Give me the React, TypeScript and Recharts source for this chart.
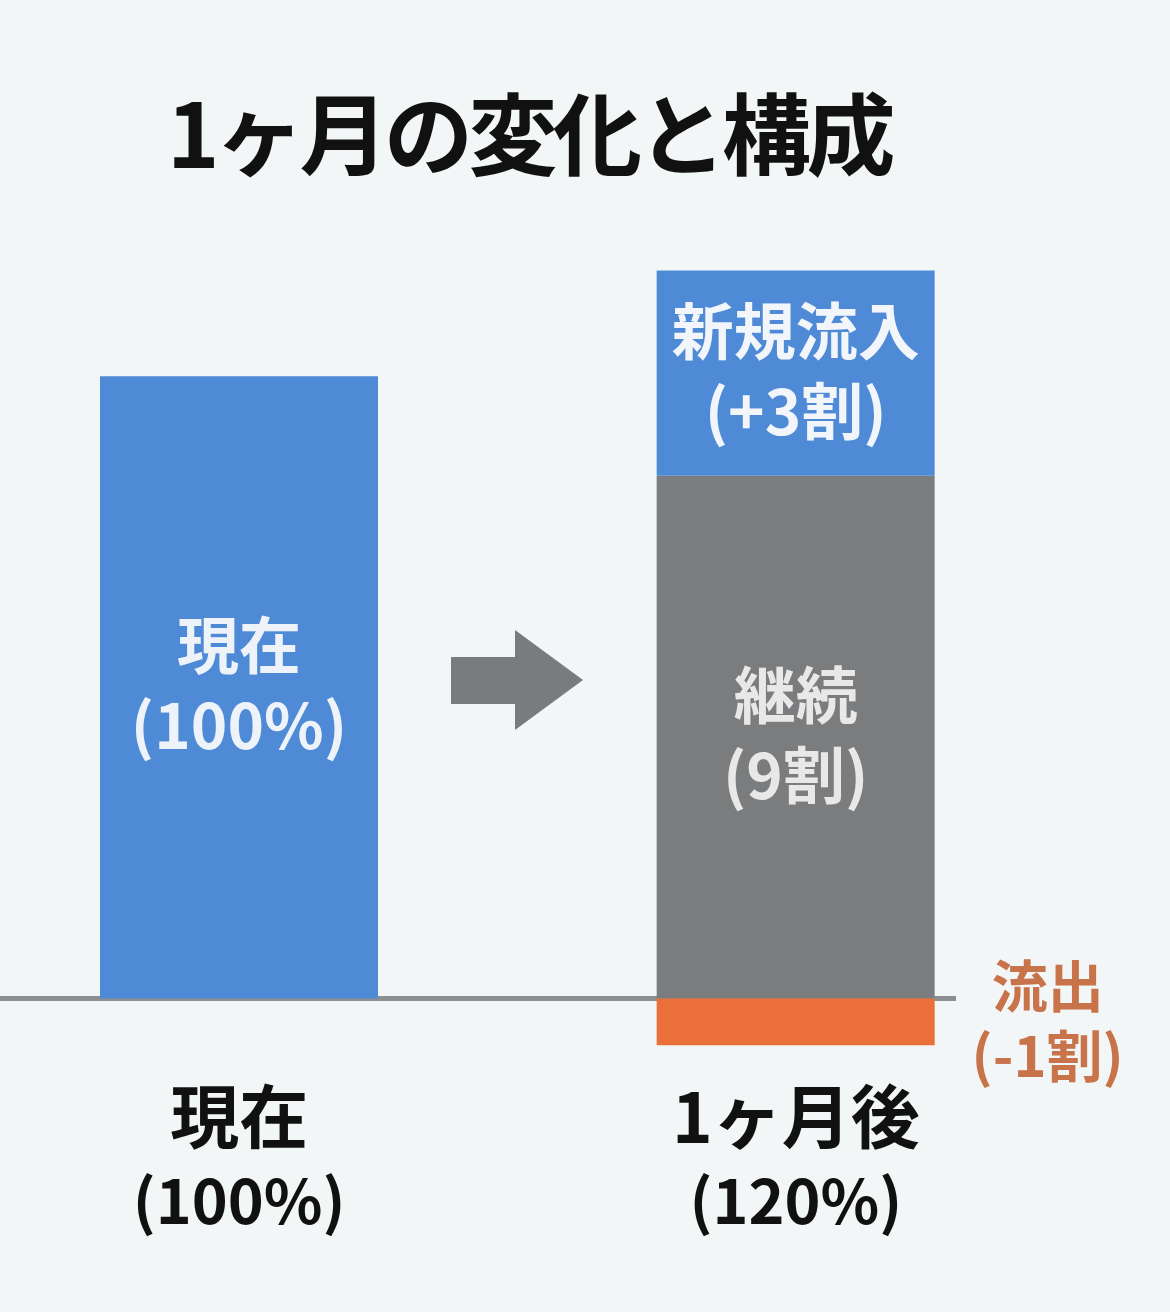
import { BarChart, Bar, XAxis, YAxis, ReferenceLine } from 'recharts';

const FONT = '"Noto Sans CJK JP", "Noto Sans", sans-serif';

const categories = ['現在', '', '1ヶ月後'];
const categoryShares = ['(100%)', '', '(120%)'];

// heights, in % of the current size
const currentValues = [100, null, null];
const continuingValues = [null, null, 84];
const inflowValues = [null, null, 33];
const outflowValues = [null, null, -7.5];

const currentLabel = ['現在', '(100%)'];
const continuingLabel = ['継続', '(9割)'];
const inflowLabel = ['新規流入', '(+3割)'];
const outflowLabel = ['流出', '(-1割)'];

const COLORS = {
  current: '#4f8ad6',
  continuing: '#7a7c7e',
  inflow: '#4f8ad6',
  outflow: '#ea6f38',
  baseline: '#8b8f91',
  background: '#f3f6f6',
};

const chartData = categories.map((name, i) => ({
  name,
  current: currentValues[i],
  continuing: continuingValues[i],
  inflow: inflowValues[i],
  outflow: outflowValues[i],
}));

// two-line label centred on a bar segment (or beside it when outside)
function segmentLabel(
  lines: string[],
  color: string,
  fontSize: number,
  gap: number,
  outside = false
) {
  return (props: any) => {
    const box = props.viewBox || props;
    const x = Number(box.x);
    const y = Number(box.y);
    const width = Number(box.width);
    const height = Number(box.height);
    if (!isFinite(x) || !isFinite(y) || !isFinite(height) || Math.abs(height) < 1) {
      return null;
    }
    const cx = outside ? x + width + 113 : x + width / 2;
    const cy = y + height / 2;
    return (
      <text
        x={cx}
        y={cy - gap / 2 + fontSize * 0.37}
        textAnchor="middle"
        fill={color}
        fontSize={fontSize}
        fontWeight={700}
        fontFamily={FONT}
      >
        <tspan x={cx}>{lines[0]}</tspan>
        <tspan x={cx} dy={gap - fontSize * 0.03}>
          {lines[1]}
        </tspan>
      </text>
    );
  };
}

function CategoryTick(props: any) {
  const { x, y, index } = props;
  const name = categories[index];
  if (!name) return null;
  return (
    <text textAnchor="middle" fill="#111" fontWeight={700} fontFamily={FONT}>
      <tspan x={x} y={y + 20} fontSize={69}>
        {name}
      </tspan>
      <tspan x={x} y={y + 101} fontSize={61}>
        {categoryShares[index]}
      </tspan>
    </text>
  );
}

function App() {
  return (
    <div
      style={{
        position: 'absolute',
        left: 0,
        top: 0,
        width: 1170,
        height: 1312,
        background: COLORS.background,
        fontFamily: FONT,
      }}
    >
      <BarChart
        width={1170}
        height={1312}
        data={chartData}
        margin={{ top: 65, right: 214, bottom: 0, left: 0 }}
        stackOffset="sign"
        barCategoryGap={0}
      >
        <ReferenceLine
          y={0}
          stroke={COLORS.baseline}
          strokeWidth={5}
          zIndex={-10}
        />
        <XAxis
          dataKey="name"
          axisLine={false}
          tickLine={false}
          tickSize={0}
          tickMargin={0}
          height={189}
          interval={0}
          padding={{ left: 100, right: 21 }}
          tick={<CategoryTick />}
        />
        <YAxis hide domain={[-20, 150]} allowDataOverflow />
        <Bar
          dataKey="current"
          stackId="a"
          fill={COLORS.current}
          isAnimationActive={false}
          label={segmentLabel(currentLabel, '#eef3fa', 62, 82)}
        />
        <Bar
          dataKey="continuing"
          stackId="a"
          fill={COLORS.continuing}
          isAnimationActive={false}
          label={segmentLabel(continuingLabel, '#e8e8e8', 62, 82)}
        />
        <Bar
          dataKey="inflow"
          stackId="a"
          fill={COLORS.inflow}
          isAnimationActive={false}
          label={segmentLabel(inflowLabel, '#f2f6fb', 62, 82)}
        />
        <Bar
          dataKey="outflow"
          stackId="a"
          fill={COLORS.outflow}
          isAnimationActive={false}
          label={segmentLabel(outflowLabel, '#c8734a', 56, 72, true)}
        />
      </BarChart>

      <svg
        width={1170}
        height={1312}
        style={{ position: 'absolute', left: 0, top: 0, pointerEvents: 'none' }}
      >
        <text
          x={529}
          y={168}
          textAnchor="middle"
          fill="#111"
          fontSize={89}
          fontWeight={700}
          letterSpacing={-4.5}
          fontFamily={FONT}
        >
          1ヶ月の変化と構成
        </text>
        <polygon
          points="451,657 515,657 515,630 583,680 515,730 515,704 451,704"
          fill="#7a7b7c"
        />
      </svg>
    </div>
  );
}

export default App;
